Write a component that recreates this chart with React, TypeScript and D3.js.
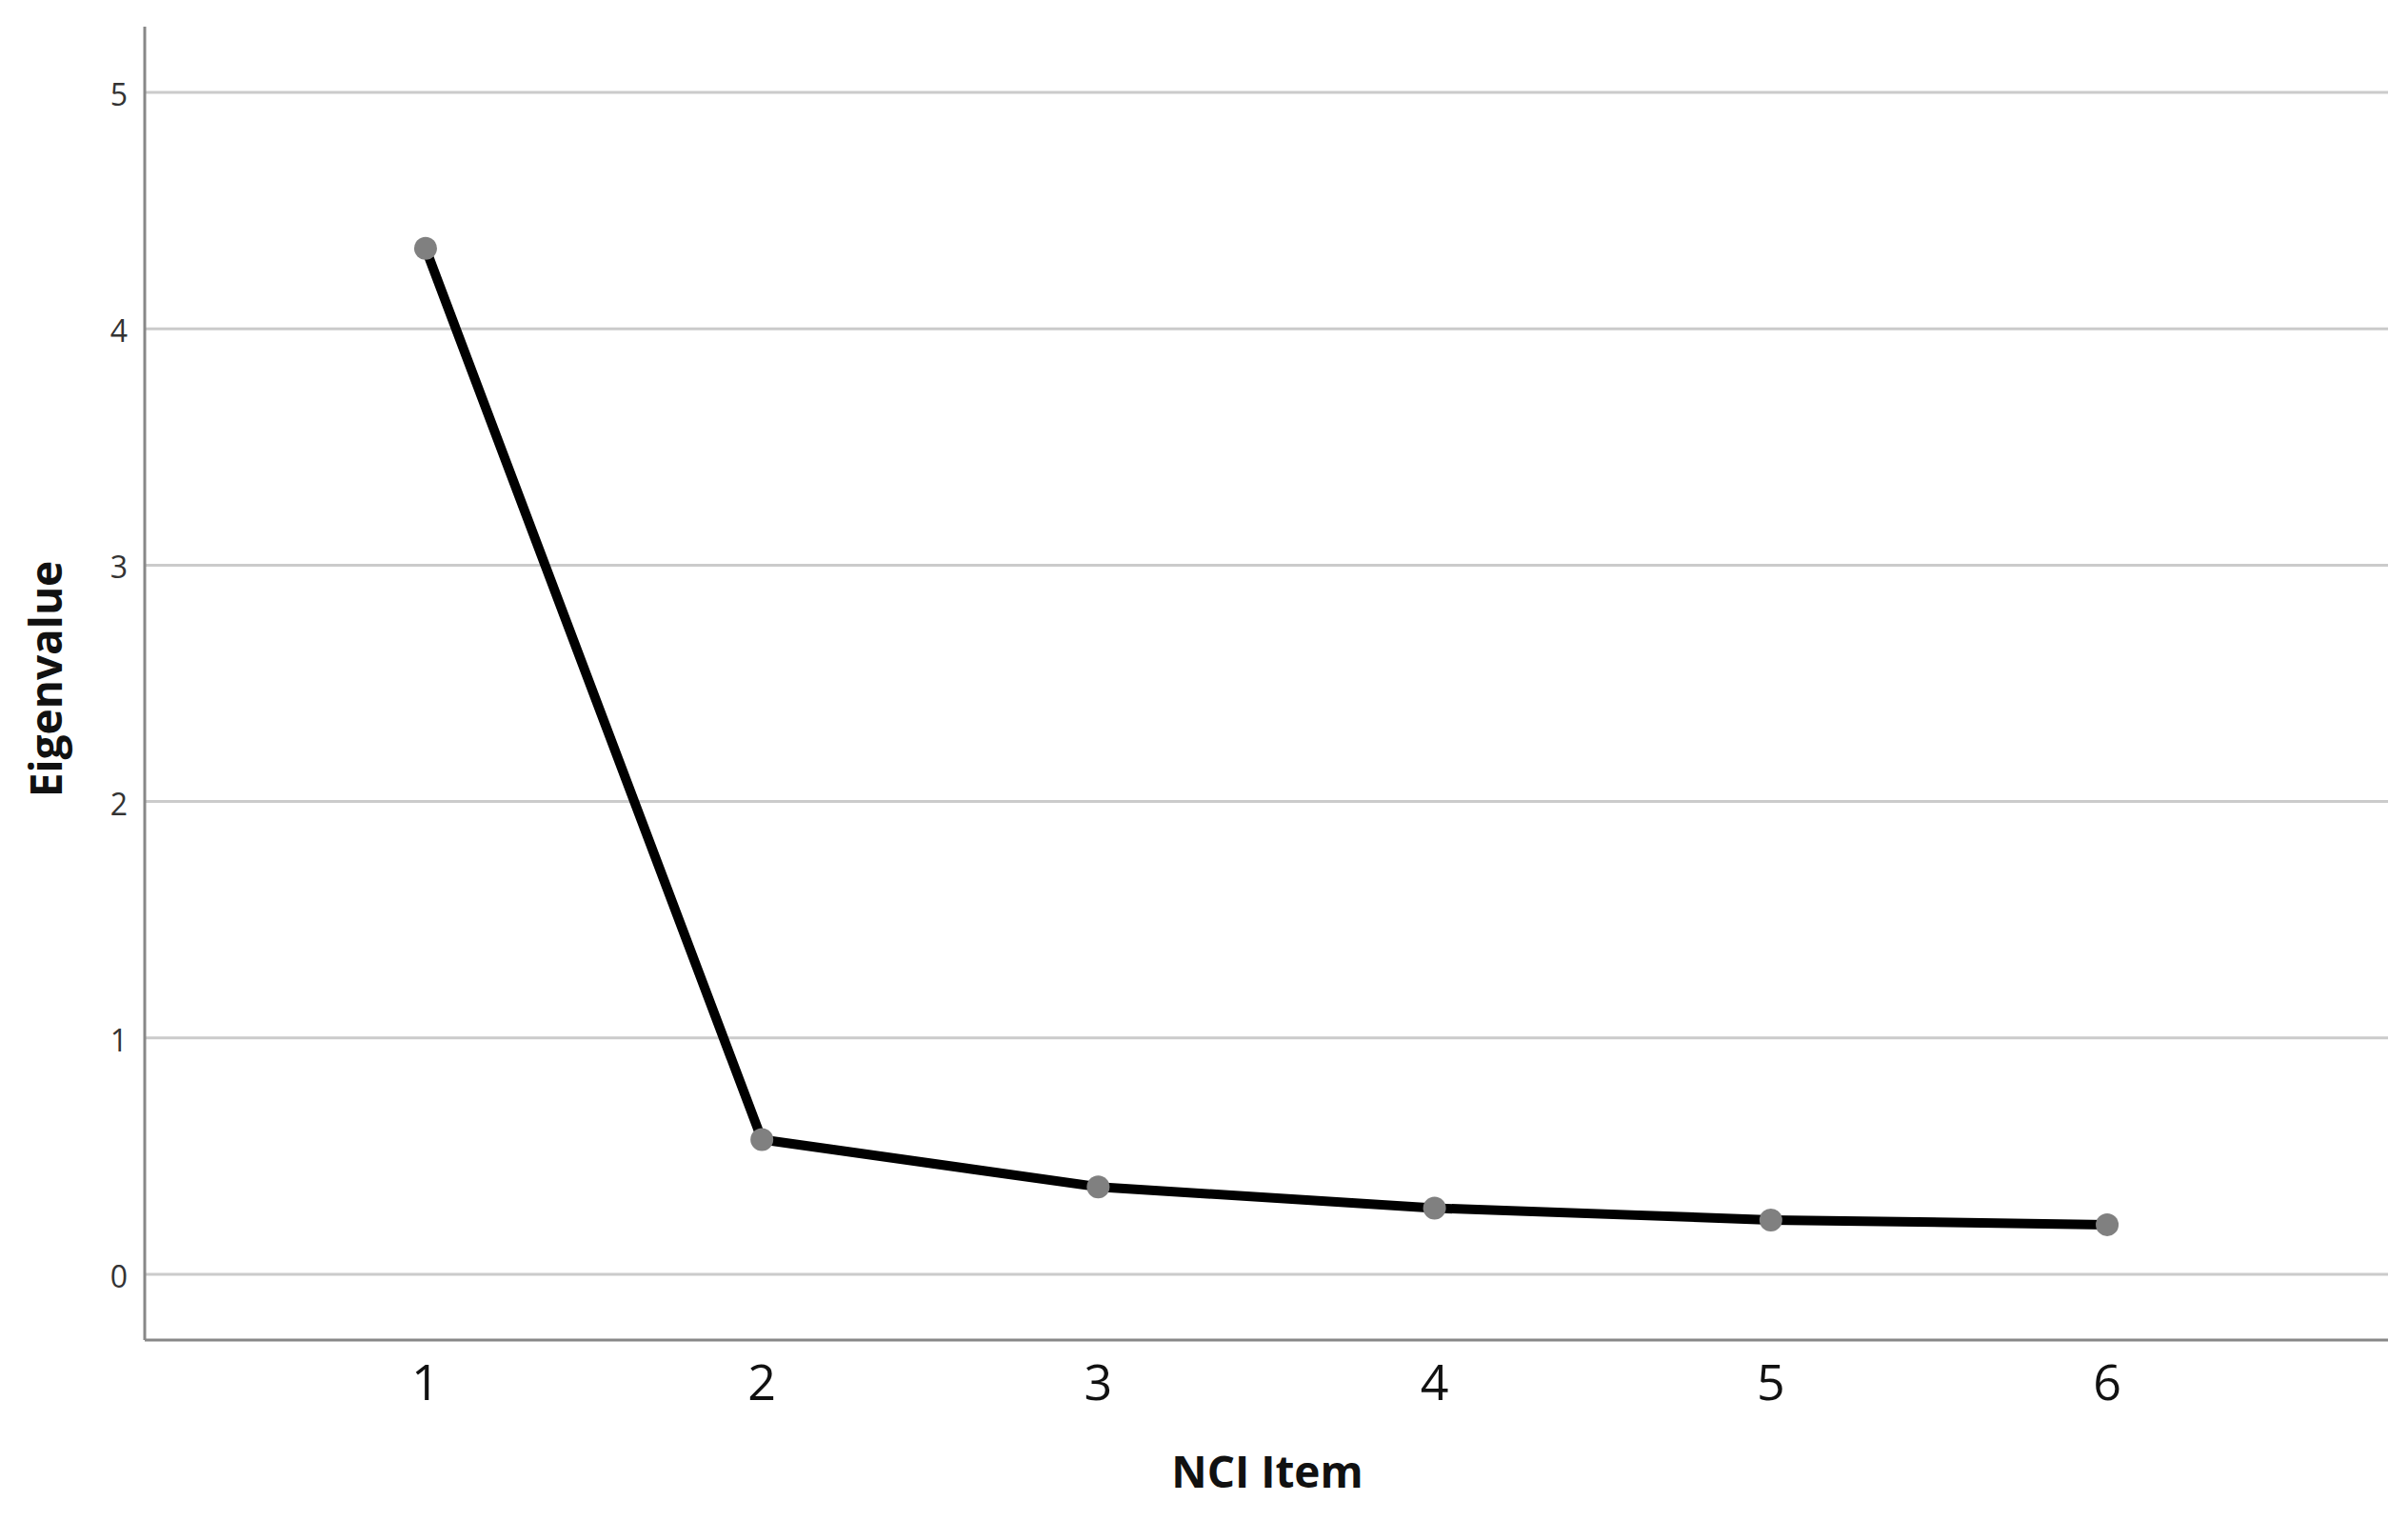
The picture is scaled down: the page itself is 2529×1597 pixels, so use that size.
import React from "react";
import * as d3 from "d3";

const items: number[] = [1, 2, 3, 4, 5, 6];
const eigenvalues: number[] = [4.34, 0.57, 0.37, 0.28, 0.23, 0.21];
const yTicks: number[] = [0, 1, 2, 3, 4, 5];
const xTickLabels: string[] = ["1", "2", "3", "4", "5", "6"];
const xTitle = "NCI Item";
const yTitle = "Eigenvalue";

const W = 2529;
const H = 1597;
const left = 152;
const right = 2508;
const top = 28;
const bottom = 1407;

export default function App() {
  const x = d3.scaleLinear().domain([0.165, 6.835]).range([left, right]);
  const y = d3.scaleLinear().domain([0, 5]).range([1338, 97]);
  const data = items.map((it, i) => ({ it, v: eigenvalues[i] }));
  const line = d3
    .line<{ it: number; v: number }>()
    .x((d) => x(d.it))
    .y((d) => y(d.v));

  return (
    <svg
      width={W}
      height={H}
      style={{ position: "absolute", left: 0, top: 0, background: "#fff" }}
    >
      <rect x={0} y={0} width={W} height={H} fill="#fff" />
      {yTicks.map((t) => (
        <line
          key={"g" + t}
          x1={left}
          x2={right}
          y1={y(t)}
          y2={y(t)}
          stroke="#cbcbcb"
          strokeWidth={3}
        />
      ))}
      {yTicks.map((t) => (
        <text
          key={"yt" + t}
          x={134}
          y={y(t) + 14}
          textAnchor="end"
          fontFamily="'Open Sans', sans-serif"
          fontSize={32}
          fill="#333"
        >
          {t}
        </text>
      ))}
      <line x1={left} x2={left} y1={top} y2={bottom} stroke="#888" strokeWidth={3} />
      <line x1={left} x2={right} y1={bottom} y2={bottom} stroke="#888" strokeWidth={3} />
      {items.map((it, i) => (
        <text
          key={"xt" + it}
          x={x(it)}
          y={1470}
          textAnchor="middle"
          fontFamily="'Open Sans', sans-serif"
          fontSize={52}
          fill="#111"
        >
          {xTickLabels[i]}
        </text>
      ))}
      <path d={line(data) || ""} fill="none" stroke="#000" strokeWidth={10} strokeLinejoin="round" />
      {data.map((d) => (
        <circle key={"p" + d.it} cx={x(d.it)} cy={y(d.v)} r={12} fill="#808080" />
      ))}
      <text
        x={1331}
        y={1562}
        textAnchor="middle"
        fontFamily="'Open Sans', sans-serif"
        fontWeight="bold"
        fontSize={46}
        fill="#111"
      >
        {xTitle}
      </text>
      <text
        transform={`translate(65, 713) rotate(-90)`}
        textAnchor="middle"
        fontFamily="'Open Sans', sans-serif"
        fontWeight="bold"
        fontSize={46}
        fill="#111"
      >
        {yTitle}
      </text>
    </svg>
  );
}
